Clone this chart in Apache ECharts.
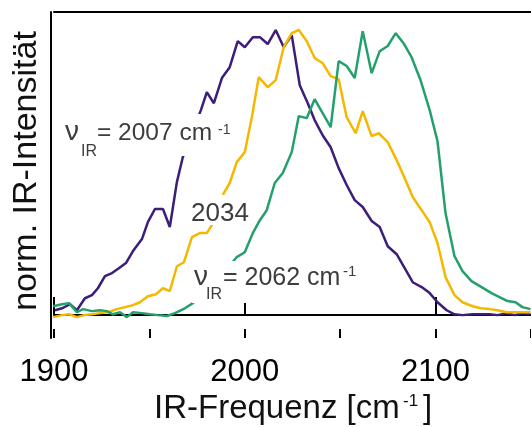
<!DOCTYPE html>
<html>
<head>
<meta charset="utf-8">
<script src="https://cdn.jsdelivr.net/npm/echarts@6/dist/echarts.min.js"></script>
<style>
  html, body { margin: 0; padding: 0; background: #fff; }
  #chart { width: 531px; height: 427px; }
</style>
</head>
<body>
<div id="chart"></div>
<script>
// IR-Spektren: [Frequenz in cm-1, norm. Intensitaet]
const spec2007 = [
  [1900.5, 0.017], [1904.2, 0.024], [1908.4, 0.038], [1912.0, 0.017], [1916.2, 0.059],
  [1919.9, 0.070], [1923.0, 0.094], [1926.7, 0.136], [1930.4, 0.147], [1934.0, 0.164],
  [1937.7, 0.182], [1941.4, 0.224], [1946.1, 0.266], [1949.2, 0.325], [1952.9, 0.371],
  [1957.1, 0.371], [1960.7, 0.308], [1964.4, 0.465], [1967.5, 0.552], [1972.3, 0.636],
  [1977.0, 0.717], [1980.1, 0.780], [1983.8, 0.741], [1988.0, 0.829], [1992.1, 0.867],
  [1996.3, 0.958], [2000.0, 0.937], [2004.2, 0.972], [2007.9, 0.972], [2012.0, 0.948],
  [2016.2, 0.997], [2020.4, 0.937], [2024.6, 0.979], [2028.8, 0.804], [2033.0, 0.741],
  [2036.6, 0.682], [2040.8, 0.629], [2045.0, 0.587], [2049.2, 0.514], [2053.4, 0.455],
  [2057.6, 0.402], [2061.8, 0.378], [2066.5, 0.329], [2070.7, 0.308], [2074.9, 0.241],
  [2079.6, 0.213], [2083.8, 0.164], [2088.0, 0.115], [2092.7, 0.098], [2096.9, 0.077],
  [2101.0, 0.045], [2105.8, 0.017], [2109.9, 0.003], [2114.1, 0.000], [2119.4, 0.003],
  [2123.6, 0.003], [2128.3, 0.003], [2132.5, 0.000], [2137.2, 0.007], [2141.4, 0.000],
  [2145.5, 0.007], [2149.7, 0.003]
];
const spec2034 = [
  [1899.5, -0.007], [1904.2, 0.000], [1907.9, 0.003], [1912.0, -0.007], [1915.7, 0.000],
  [1919.9, 0.003], [1924.1, 0.007], [1928.3, 0.010], [1933.0, 0.021], [1937.2, 0.028],
  [1941.4, 0.035], [1945.0, 0.045], [1949.2, 0.066], [1953.4, 0.073], [1957.1, 0.094],
  [1960.7, 0.084], [1964.4, 0.171], [1968.1, 0.185], [1972.3, 0.273], [1976.4, 0.287],
  [1980.1, 0.287], [1982.7, 0.315], [1985.9, 0.371], [1989.0, 0.427], [1992.1, 0.462],
  [1995.8, 0.535], [2000.0, 0.570], [2003.7, 0.692], [2007.3, 0.832], [2012.0, 0.797],
  [2016.2, 0.822], [2020.4, 0.937], [2024.6, 0.986], [2028.3, 0.997], [2032.5, 0.958],
  [2036.6, 0.899], [2040.8, 0.881], [2045.0, 0.836], [2049.2, 0.825], [2053.4, 0.692],
  [2058.1, 0.636], [2061.8, 0.713], [2066.5, 0.626], [2070.2, 0.636], [2074.9, 0.605],
  [2079.6, 0.542], [2083.8, 0.479], [2088.0, 0.413], [2092.7, 0.367], [2096.9, 0.325],
  [2101.0, 0.252], [2105.2, 0.133], [2109.9, 0.070], [2114.1, 0.045], [2119.4, 0.031],
  [2123.6, 0.024], [2128.3, 0.021], [2132.5, 0.017], [2137.2, 0.010], [2141.4, 0.010],
  [2145.5, 0.010], [2149.7, 0.010]
];
const spec2062 = [
  [1899.5, 0.031], [1904.2, 0.038], [1907.9, 0.042], [1912.0, 0.010], [1915.2, 0.021],
  [1919.9, 0.014], [1924.1, 0.017], [1927.7, 0.014], [1930.9, 0.003], [1934.6, 0.010],
  [1938.2, -0.007], [1941.4, 0.010], [1946.1, 0.007], [1950.3, 0.003], [1954.5, 0.000],
  [1959.2, -0.003], [1963.4, 0.007], [1968.6, 0.024], [1972.8, 0.042], [1977.0, 0.063],
  [1981.2, 0.087], [1985.3, 0.112], [1989.5, 0.150], [1992.7, 0.178], [1995.8, 0.203],
  [2000.0, 0.220], [2004.2, 0.287], [2007.9, 0.332], [2011.5, 0.367], [2015.7, 0.462],
  [2019.9, 0.497], [2024.6, 0.570], [2028.3, 0.696], [2032.5, 0.689], [2036.6, 0.755],
  [2040.8, 0.706], [2045.0, 0.657], [2049.2, 0.888], [2053.4, 0.871], [2057.6, 0.829],
  [2061.8, 0.993], [2066.5, 0.846], [2070.7, 0.923], [2074.9, 0.941], [2079.1, 0.986],
  [2083.2, 0.951], [2087.4, 0.902], [2092.1, 0.822], [2096.9, 0.717], [2101.0, 0.608],
  [2105.2, 0.357], [2109.9, 0.206], [2114.1, 0.154], [2118.8, 0.119], [2124.1, 0.098],
  [2129.3, 0.077], [2133.5, 0.063], [2137.7, 0.049], [2141.9, 0.045], [2145.5, 0.028],
  [2149.7, 0.021]
];
const xLabels = [1900, 2000, 2100];
const lineColors = ['#3c1d7a', '#f5b800', '#24a06c'];

const FONT = '"Liberation Sans", Arial, Helvetica, sans-serif';
const GRAY = '#3d3d3d';

// kleiner helper fuer die beschriftungen
function txt(text, x, y, size, opts) {
  opts = opts || {};
  return {
    type: 'text',
    x: x,
    y: y,
    z: 100,
    rotation: opts.rotation || 0,
    style: {
      text: text,
      fontSize: size,
      fontFamily: FONT,
      fill: opts.color || GRAY,
      align: opts.align || 'left',
      textAlign: opts.align || 'left',
      verticalAlign: 'middle',
      textVerticalAlign: 'middle'
    }
  };
}
// weisse flaeche hinter den labels (verdeckt die linien wie im original)
function mask(x, y, w, h) {
  return { type: 'rect', z: 99, shape: { x: x, y: y, width: w, height: h }, style: { fill: '#fff' } };
}

const chart = echarts.init(document.getElementById('chart'));

chart.setOption({
  animation: false,
  backgroundColor: '#fff',
  grid: { left: 54, right: 0, top: 12, bottom: 89, containLabel: false, outerBoundsMode: 'none' },
  xAxis: [
    {
      type: 'value', min: 1900, max: 2150, interval: 100, position: 'bottom',
      axisLine: { lineStyle: { color: '#000', width: 2 } },
      axisTick: { inside: true, length: 18, lineStyle: { color: '#000', width: 2 } },
      axisLabel: {
        margin: 19, fontSize: 31, color: '#000', fontFamily: FONT, showMaxLabel: false,
        formatter: function (v) { return xLabels.indexOf(v) >= 0 ? String(v) : ''; }
      },
      splitLine: { show: false }
    },
    {
      // kurze ticks alle 50
      type: 'value', min: 1900, max: 2150, interval: 50, position: 'bottom',
      axisLine: { show: false },
      axisTick: { inside: true, length: 9, lineStyle: { color: '#000', width: 2 } },
      axisLabel: { show: false },
      splitLine: { show: false }
    },
    {
      type: 'value', min: 1900, max: 2150, position: 'top',
      axisLine: { lineStyle: { color: '#000', width: 2 } },
      axisTick: { show: false },
      axisLabel: { show: false },
      splitLine: { show: false }
    }
  ],
  yAxis: {
    type: 'value', min: -0.08, max: 1.06, offset: 3,
    axisLine: { show: true, lineStyle: { color: '#000', width: 2 } },
    axisTick: { show: false },
    axisLabel: { show: false },
    splitLine: { show: false }
  },
  series: [spec2007, spec2034, spec2062].map(function (d, i) {
    return {
      type: 'line',
      xAxisIndex: 0,
      data: d,
      showSymbol: false,
      lineStyle: { color: lineColors[i], width: 2.5 },
      z: 2 + i
    };
  }),
  graphic: [
    // achsentitel
    txt('norm. IR-Intensität', 27, 171, 34, { rotation: Math.PI / 2, align: 'center', color: '#111' }),
    txt('IR-Frequenz [cm', 154, 409, 33, { color: '#111' }),
    txt('-1', 403, 401, 17, { color: '#111' }),
    txt(']', 423, 409, 33, { color: '#111' }),

    // nu_IR = 2007 cm-1
    mask(64, 114, 172, 42),
    txt('ν', 65, 132.5, 28),
    txt('IR', 81, 151.8, 16),
    txt('= 2007 cm', 97, 133.6, 24.5),
    txt('-1', 218, 130, 14),

    // 2034
    mask(189, 195, 62, 30),
    txt('2034', 220, 214, 26, { align: 'center' }),

    // nu_IR = 2062 cm-1
    mask(192, 261, 168, 42),
    txt('ν', 194, 277.5, 28),
    txt('IR', 206, 294.4, 16),
    txt('= 2062 cm', 223, 278.3, 25),
    txt('-1', 343, 271.8, 15)
  ]
});
</script>
</body>
</html>
